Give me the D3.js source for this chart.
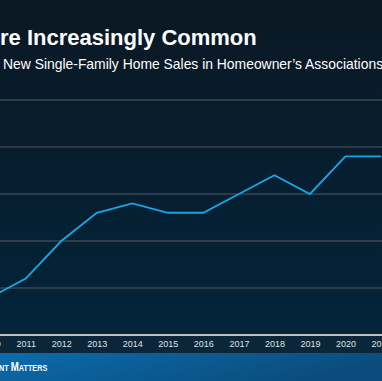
<!DOCTYPE html>
<html>
<head>
<meta charset="utf-8">
<script src="https://cdn.jsdelivr.net/npm/d3@7"></script>
<style>
  html, body { margin: 0; padding: 0; background: #0a1a26; overflow: hidden; }
  svg { display: block; }
</style>
</head>
<body>
<svg id="chart"></svg>
<script>
const years = ['2010', '2011', '2012', '2013', '2014', '2015', '2016', '2017', '2018', '2019', '2020', '2021']
const share = [49, 51, 55, 58, 59, 58, 58, 60, 62, 60, 64, 64]
const gridValues = [50, 55, 60, 65, 70]

const WIDTH = 382
const HEIGHT = 381
const PLOT_TOP = 100
const PLOT_BOTTOM = 335
const FONT = 'Liberation Sans, Arial, sans-serif'

const svg = d3.select('#chart')
  .attr('width', WIDTH)
  .attr('height', HEIGHT)

const defs = svg.append('defs')

const bg = defs.append('linearGradient')
  .attr('id', 'bg')
  .attr('x1', 0).attr('y1', 0).attr('x2', 0).attr('y2', 1)
bg.append('stop').attr('offset', '0%').attr('stop-color', '#0b1824')
bg.append('stop').attr('offset', '100%').attr('stop-color', '#01263d')

const footer = defs.append('linearGradient')
  .attr('id', 'footer')
  .attr('x1', 0).attr('y1', 0).attr('x2', 1).attr('y2', 0.3)
footer.append('stop').attr('offset', '0%').attr('stop-color', '#0a6cae')
footer.append('stop').attr('offset', '100%').attr('stop-color', '#0b4c7c')

svg.append('rect')
  .attr('width', WIDTH)
  .attr('height', HEIGHT)
  .attr('fill', 'url(#bg)')

// one step per year, 2011 sits at x ~ 26
const xScale = d3.scalePoint()
  .domain(years)
  .range([-9.8, 381])

const yScale = d3.scaleLinear()
  .domain([45, 70])
  .range([PLOT_BOTTOM, PLOT_TOP])

// gridlines
svg.append('g')
  .selectAll('line')
  .data(gridValues)
  .enter()
  .append('line')
  .attr('x1', 0)
  .attr('x2', WIDTH)
  .attr('y1', d => yScale(d))
  .attr('y2', d => yScale(d))
  .attr('stroke', '#39474f')
  .attr('stroke-width', 1.5)

// label band under the axis
svg.append('rect')
  .attr('x', 0)
  .attr('y', PLOT_BOTTOM)
  .attr('width', WIDTH)
  .attr('height', 19)
  .attr('fill', '#0b2639')

const xAxis = d3.axisBottom(xScale).tickSize(0).tickPadding(6)
const axisG = svg.append('g')
  .attr('transform', `translate(0, ${PLOT_BOTTOM})`)
  .call(xAxis)
axisG.select('.domain').remove()
axisG.selectAll('text')
  .attr('fill', '#dde2e6')
  .attr('font-family', FONT)
  .attr('font-size', 9)

svg.append('line')
  .attr('x1', 0)
  .attr('x2', WIDTH)
  .attr('y1', PLOT_BOTTOM)
  .attr('y2', PLOT_BOTTOM)
  .attr('stroke', '#b9c0c6')
  .attr('stroke-width', 2)

// data line
const line = d3.line()
  .x((d, i) => xScale(years[i]))
  .y(d => yScale(d))

svg.append('path')
  .datum(share)
  .attr('d', line)
  .attr('fill', 'none')
  .attr('stroke', '#16a6e6')
  .attr('stroke-width', 1.9)

// footer
svg.append('rect')
  .attr('x', 0)
  .attr('y', 353)
  .attr('width', WIDTH)
  .attr('height', HEIGHT - 353)
  .attr('fill', 'url(#footer)')

const brand = svg.append('text')
  .attr('transform', 'translate(-1, 371) scale(0.78, 1)')
  .attr('fill', '#ffffff')
  .attr('font-family', FONT)
  .attr('font-weight', 'bold')
brand.append('tspan').attr('font-size', 9.3).text('NT ')
brand.append('tspan').attr('font-size', 12.5).text('M')
brand.append('tspan').attr('font-size', 9.3).text('ATTERS')

// titles
svg.append('text')
  .attr('x', 0)
  .attr('y', 45)
  .attr('fill', '#ffffff')
  .attr('font-family', FONT)
  .attr('font-weight', 'bold')
  .attr('font-size', 22)
  .text('re Increasingly Common')

svg.append('text')
  .attr('x', 3)
  .attr('y', 69)
  .attr('fill', '#ffffff')
  .attr('font-family', FONT)
  .attr('font-size', 13.9)
  .text('New Single-Family Home Sales in Homeowner’s Associations')
</script>
</body>
</html>
